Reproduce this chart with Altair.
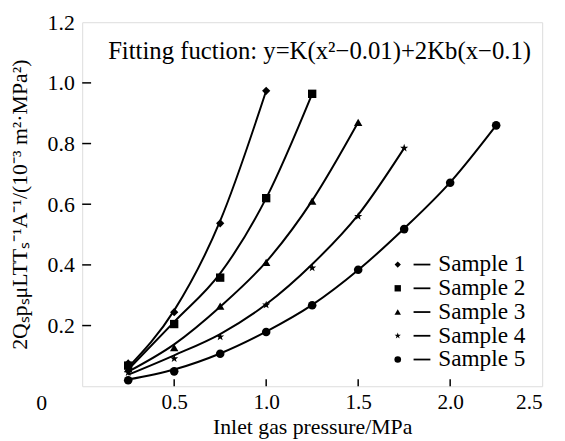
import altair as alt
import pandas as pd

# ---------------- data ----------------
samples = ["Sample 1", "Sample 2", "Sample 3", "Sample 4", "Sample 5"]
pressure = [0.25, 0.5, 0.75, 1.0, 1.25, 1.5, 1.75, 2.0, 2.25]

# measured points (markers)
s1_meas = [0.075, 0.244, 0.537, 0.974]
s2_meas = [0.068, 0.205, 0.358, 0.620, 0.964]
s3_meas = [0.058, 0.127, 0.264, 0.408, 0.610, 0.870]
s4_meas = [0.045, 0.091, 0.163, 0.268, 0.390, 0.560, 0.785]
s5_meas = [0.020, 0.049, 0.107, 0.179, 0.267, 0.384, 0.518, 0.671, 0.860]

# fitted curves
s1_fit = [0.062, 0.250, 0.545, 0.974]
s2_fit = [0.055, 0.212, 0.372, 0.620, 0.964]
s3_fit = [0.048, 0.138, 0.262, 0.410, 0.612, 0.870]
s4_fit = [0.038, 0.102, 0.172, 0.270, 0.402, 0.565, 0.785]
s5_fit = [0.022, 0.055, 0.108, 0.180, 0.268, 0.383, 0.520, 0.672, 0.860]

x_ticks = [0.5, 1.0, 1.5, 2.0]
y_ticks = [0.2, 0.4, 0.6, 0.8, 1.0]
x_labels = [0.5, 1.0, 1.5, 2.0, 2.5]
y_labels = [0.2, 0.4, 0.6, 0.8, 1.0, 1.2]

fit_title = "Fitting fuction: y=K(x\u00b2\u22120.01)+2Kb(x\u22120.1)"
y_title = "2Q\u209bp\u209b\u03bcLTT\u209b\u207b\u00b9A\u207b\u00b9/(10\u207b\u00b3 m\u00b2\u00b7MPa\u00b2)"
x_title = "Inlet gas pressure/MPa"

# ---------------- build tables ----------------
meas = [s1_meas, s2_meas, s3_meas, s4_meas, s5_meas]
fits = [s1_fit, s2_fit, s3_fit, s4_fit, s5_fit]
pts = pd.DataFrame(
    [{"sample": s, "x": pressure[i], "y": v} for s, arr in zip(samples, meas) for i, v in enumerate(arr)]
)
lines = pd.DataFrame(
    [{"sample": s, "x": pressure[i], "y": v} for s, arr in zip(samples, fits) for i, v in enumerate(arr)]
)

W, H = 465, 368
XMAX, YMAX = 2.5, 1.2
FONT = "Liberation Serif"

def px_to_x(p):
    return p / W * XMAX

def px_to_y(p):
    return YMAX - p / H * YMAX

star = ("M0,-1L0.235,-0.324L0.951,-0.309L0.380,0.124L0.588,0.809L0,0.4"
        "L-0.588,0.809L-0.380,0.124L-0.951,-0.309L-0.235,-0.324Z")
shape_scale = alt.Scale(domain=samples,
                        range=["diamond", "square", "triangle-up", star, "circle"])
size_scale = alt.Scale(domain=samples, range=[70, 75, 95, 130, 80])
leg_size_scale = alt.Scale(domain=samples, range=[40, 45, 55, 75, 50])

xs = alt.Scale(domain=[0, XMAX], nice=False, zero=False)
ys = alt.Scale(domain=[0, YMAX], nice=False, zero=False)

x_axis = alt.Axis(values=x_labels, format=".1f", ticks=False, domain=False, grid=False,
                  labelFont=FONT, labelFontSize=21.5, labelColor="black", labelPadding=6,
                  title=x_title, titleFont=FONT, titleFontSize=22, titleFontWeight="normal",
                  titleColor="black", titleY=48, titleBaseline="alphabetic")
y_axis = alt.Axis(values=y_labels, format=".1f", ticks=False, domain=False, grid=False,
                  labelFont=FONT, labelFontSize=22, labelColor="black", labelPadding=8,
                  title=y_title, titleFont=FONT, titleFontSize=22, titleFontWeight="normal",
                  titleColor="black", titleX=-63, titleY=H / 2, titleAngle=270,
                  titleAlign="center", titleBaseline="middle")

base_lines = alt.Chart(lines).mark_line(interpolate="monotone", color="black", strokeWidth=2).encode(
    x=alt.X("x:Q", scale=xs, axis=x_axis),
    y=alt.Y("y:Q", scale=ys, axis=y_axis),
    detail="sample:N",
)

points = alt.Chart(pts).mark_point(filled=True, color="black", opacity=1).encode(
    x=alt.X("x:Q", scale=xs),
    y=alt.Y("y:Q", scale=ys),
    shape=alt.Shape("sample:N", scale=shape_scale, legend=None),
    size=alt.Size("sample:N", scale=size_scale, legend=None),
)

# inward ticks
xt = alt.Chart(pd.DataFrame({"v": x_ticks})).mark_rule(color="black", strokeWidth=1.5).encode(
    x=alt.X("v:Q", scale=xs), y=alt.value(H), y2=alt.value(H - 7))
yt = alt.Chart(pd.DataFrame({"v": y_ticks})).mark_rule(color="black", strokeWidth=1.5).encode(
    y=alt.Y("v:Q", scale=ys), x=alt.value(0), x2=alt.value(9))

zero = alt.Chart(pd.DataFrame({"x": [0.0], "y": [0.0], "t": ["0"]})).mark_text(
    font=FONT, fontSize=22, color="black", dx=-41, dy=17, baseline="middle", align="center"
).encode(x=alt.X("x:Q", scale=xs), y=alt.Y("y:Q", scale=ys), text="t:N")

title_txt = alt.Chart(pd.DataFrame({"t": [fit_title]})).mark_text(
    font=FONT, fontSize=25, color="black", align="center", baseline="alphabetic"
).encode(x=alt.value(240), y=alt.value(37), text="t:N")

# legend (positions in pixels converted to data units)
rows = [245 + 24 * i for i in range(len(samples))]
leg = pd.DataFrame({
    "sample": samples,
    "sx": [px_to_x(319)] * len(samples),
    "d1": [px_to_x(335)] * len(samples),
    "d2": [px_to_x(352)] * len(samples),
    "tx": [px_to_x(360)] * len(samples),
    "ly": [px_to_y(r) for r in rows],
})
leg_pts = alt.Chart(leg).mark_point(filled=True, color="black", opacity=1).encode(
    x=alt.X("sx:Q", scale=xs), y=alt.Y("ly:Q", scale=ys),
    shape=alt.Shape("sample:N", scale=shape_scale, legend=None),
    size=alt.Size("sample:N", scale=leg_size_scale, legend=None),
)
leg_dash = alt.Chart(leg).mark_rule(color="black", strokeWidth=1.8).encode(
    x=alt.X("d1:Q", scale=xs), x2="d2:Q", y=alt.Y("ly:Q", scale=ys))
leg_txt = alt.Chart(leg).mark_text(font=FONT, fontSize=23.5, color="black", align="left",
                                   baseline="middle").encode(
    x=alt.X("tx:Q", scale=xs), y=alt.Y("ly:Q", scale=ys), text="sample:N")

chart = alt.layer(base_lines, points, xt, yt, zero, title_txt, leg_pts, leg_dash, leg_txt).resolve_scale(
    size="independent"
).properties(
    width=W, height=H,
    autosize=alt.AutoSizeParams(type="none"),
    padding={"left": 75, "top": 12, "right": 15, "bottom": 53},
).configure_view(stroke="black", strokeWidth=1.5).configure(background="white")

chart.save("out.html", embed_options={"renderer": "svg", "actions": False})
